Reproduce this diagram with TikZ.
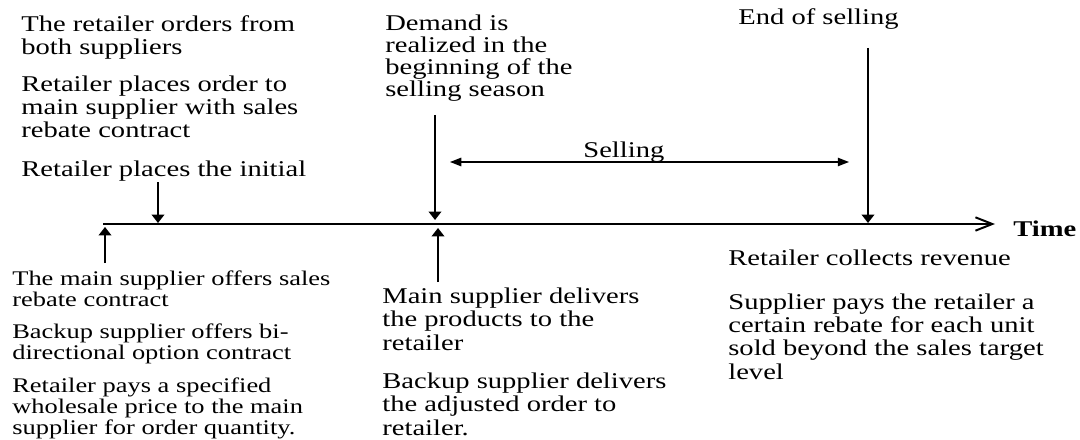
\documentclass[tikz,border=0pt]{standalone}
\usepackage{fontspec}
\setmainfont{Liberation Serif}
\usetikzlibrary{arrows.meta}

\begin{document}
\begin{tikzpicture}[x=0.025cm,y=-0.025cm,
    note/.style={anchor=base west,inner sep=0pt,align=left,xscale=1.27,transform shape,
      font=\fontsize{16}{16.4}\selectfont},
    smallnote/.style={note,font=\fontsize{14.8}{14.6}\selectfont},
    evarrow/.style={line width=1.2pt,-{Triangle[length=6pt,width=9pt]}}]
  \useasboundingbox (0,0) rectangle (1080,440);

  % time axis
  \coordinate (t0) at (103,224);
  \coordinate (tend) at (995,224);
  \draw[line width=1.5pt,-{Straight Barb[length=12pt,width=9.5pt,line width=1.4pt]}] (t0) -- (tend);
  \node[note,font=\fontsize{16}{16.4}\bfseries] (time) at (1013,236) {Time};

  % events above the axis (base = last line)
  \node[note] (order) at (21,55) {The retailer orders from\\both suppliers};
  \node[note] (place) at (21,138) {Retailer places order to\\main supplier with sales\\rebate contract};
  \node[note] (initial) at (21,177) {Retailer places the initial};
  \node[note,font=\fontsize{16}{15.8}\selectfont] (demand) at (385,97)
    {Demand is\\realized in the\\beginning of the\\selling season};
  \node[note] (endsell) at (738,25) {End of selling};

  \coordinate (initTop) at (158,182);
  \coordinate (initT) at (158,223);
  \coordinate (demTop) at (435,115);
  \coordinate (demT) at (435,220);
  \coordinate (endTop) at (868,48);
  \coordinate (endT) at (868,223);
  \draw[evarrow] (initTop) -- (initT);
  \draw[evarrow] (demTop) -- (demT);
  \draw[evarrow] (endTop) -- (endT);

  % selling season
  \coordinate (sellA) at (450,162);
  \coordinate (sellB) at (849,162);
  \draw[line width=0.9pt,{Triangle[length=8pt,width=6pt]}-{Triangle[length=8pt,width=6pt]}] (sellA) -- (sellB);
  \node[note] (selling) at (583,157) {Selling};

  % events below the axis
  \node[smallnote] (offer) at (12,306) {The main supplier offers sales\\rebate contract};
  \node[smallnote] (backup) at (12,359) {Backup supplier offers bi-\\directional option contract};
  \node[smallnote] (pay) at (12,434) {Retailer pays a specified\\wholesale price to the main\\supplier for order quantity.};
  \node[note] (deliver) at (382,350) {Main supplier delivers\\the products to the\\retailer};
  \node[note] (adjust) at (382,435) {Backup supplier delivers\\the adjusted order to\\retailer.};
  \node[note] (revenue) at (728,265) {Retailer collects revenue};
  \node[note] (rebate) at (728,379) {Supplier pays the retailer a\\certain rebate for each unit\\sold beyond the sales target\\level};

  \coordinate (offBot) at (105,263);
  \coordinate (offT) at (105,227);
  \coordinate (delBot) at (438,282);
  \coordinate (delT) at (438,228);
  \draw[evarrow] (offBot) -- (offT);
  \draw[evarrow] (delBot) -- (delT);
\end{tikzpicture}
\end{document}
